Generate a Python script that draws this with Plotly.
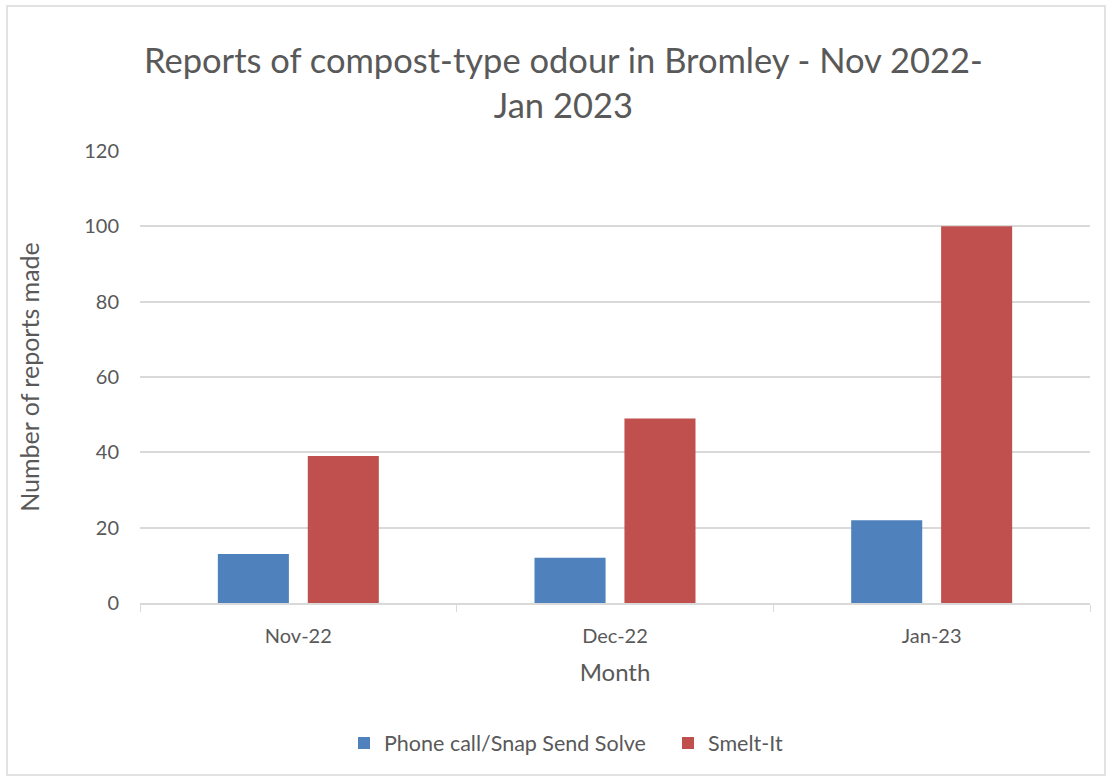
import plotly.graph_objects as go

months = ["Nov-22", "Dec-22", "Jan-23"]
phone_snap = [13, 12, 22]
smelt_it = [39, 49, 100]
series_names = ["Phone call/Snap Send Solve", "Smelt-It"]
colors = ["#4f81bd", "#c0504d"]

FONT = "Lato, 'Open Sans', sans-serif"
GREY = "#595959"

fig = go.Figure()
fig.add_trace(go.Bar(x=months, y=phone_snap, name=series_names[0],
                     marker=dict(color=colors[0], line=dict(width=0))))
fig.add_trace(go.Bar(x=months, y=smelt_it, name=series_names[1],
                     marker=dict(color=colors[1], line=dict(width=0))))

fig.update_layout(
    width=1109, height=778,
    paper_bgcolor="white", plot_bgcolor="white",
    margin=dict(l=140, r=19, t=151, b=175),
    barmode="group", bargap=0.432, bargroupgap=0.21,
    font=dict(family=FONT, color=GREY),
    title=dict(text="Reports of compost-type odour in Bromley - Nov 2022-<br>Jan 2023",
               x=0.508, xanchor="center", y=0.906, yanchor="middle",
               font=dict(size=34.5, color=GREY, family=FONT)),
    xaxis=dict(
        title=dict(text="Month", font=dict(size=24, color=GREY), standoff=18),
        tickfont=dict(size=20, color=GREY),
        showline=True, linecolor="#d9d9d9", linewidth=1.5,
        ticks="outside", tickson="boundaries", ticklen=7, tickcolor="#d9d9d9",
        ticklabelstandoff=14,
        showgrid=False,
    ),
    yaxis=dict(
        title=dict(text="Number of reports made", font=dict(size=25, color=GREY), standoff=37),
        tickfont=dict(size=20, color=GREY),
        range=[0, 120], dtick=20,
        showgrid=True, gridcolor="#d9d9d9", gridwidth=1.5,
        zeroline=False, showline=False, ticklabelstandoff=20,
    ),
    legend=dict(orientation="h", x=(344 - 140) / 950, xanchor="left", y=-0.31, yanchor="middle",
                font=dict(size=21.5, color=GREY), itemwidth=30, tracegroupgap=0,
                entrywidth=279, entrywidthmode="pixels"),
    showlegend=True,
)

fig.add_shape(type="rect", xref="paper", yref="paper",
              x0=(7 - 140) / 950, x1=(1105 - 140) / 950,
              y0=(603 - 775) / 452, y1=(603 - 6) / 452,
              line=dict(color="#d9d9d9", width=1.5), fillcolor="rgba(0,0,0,0)", layer="below")

fig.write_html("out.html", config={"displayModeBar": False},
               post_script="document.body.style.margin='0';document.body.style.overflow='hidden';")
